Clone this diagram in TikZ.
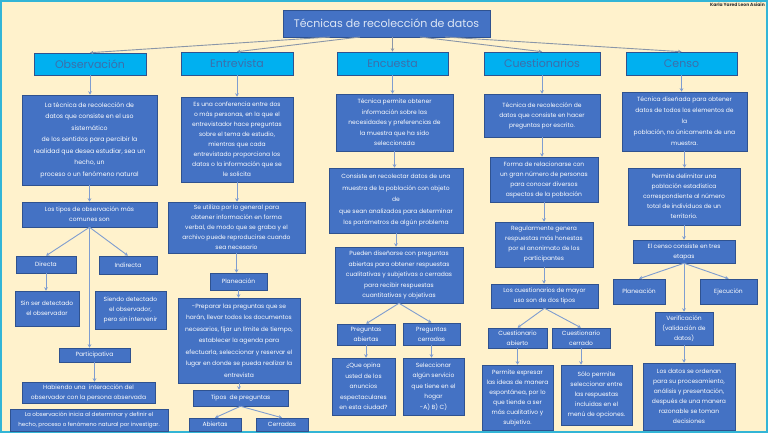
\documentclass[tikz,border=0pt]{standalone}
\usepackage{fontspec}
\setmainfont{Poppins}
\usetikzlibrary{arrows.meta}
\definecolor{bg}{HTML}{FFF2CC}
\definecolor{frm}{HTML}{33B5D6}
\definecolor{blu}{HTML}{4472C4}
\definecolor{bdr}{HTML}{2F528F}
\definecolor{cyn}{HTML}{00B0F0}
\definecolor{hdtext}{HTML}{3D6EAA}
\definecolor{ttltext}{HTML}{DCE6F5}
\definecolor{arc}{HTML}{7F9DD0}
\definecolor{tarc}{HTML}{8A96A8}
\newcommand\RB[7][bx]{\node[#1,minimum width={#5-#3},minimum height={#6-#4}] (#2) at ({(#3+#5)/2},{(#4+#6)/2}) {#7};}
\begin{document}
\begin{tikzpicture}[x=1pt,y=-1pt,
  bx/.style={draw=bdr,fill=blu,text=white,align=center,inner sep=0pt,line width=0.5pt,font=\fontsize{6}{10}\selectfont},
  hd/.style={draw=bdr,fill=cyn,text=hdtext,align=center,inner sep=0pt,line width=0.6pt,font=\fontsize{11}{12}\selectfont},
  ttl/.style={draw=bdr,fill=blu,text=ttltext,align=center,inner sep=0pt,line width=0.6pt,font=\fontsize{11}{12}\selectfont},
  arr/.style={draw=arc,line width=0.9pt,-{Stealth[length=3.5pt,width=3.5pt]}},
  tarr/.style={draw=tarc,line width=0.9pt,-{Stealth[length=3.5pt,width=3.5pt]}}]
\useasboundingbox (0,0) rectangle (768,433);
\fill[bg] (0,0) rectangle (768,433);
\draw[frm,line width=2pt] (1,1) rectangle (767,432);
\node[anchor=north east,inner sep=0pt,font=\fontsize{4.5}{5}\selectfont\bfseries,text=black!80] (auth) at (765,3) {Karla Yared Leon Asiain};
% title and headers
\RB[ttl]{title}{283}{10}{490}{37}{Técnicas de recolección de datos}
\RB[hd]{hObs}{34}{53}{146}{75}{Observación}
\RB[hd]{hEnt}{181}{52}{293}{75}{Entrevista}
\RB[hd]{hEnc}{337}{52}{448}{75}{Encuesta}
\RB[hd]{hCue}{484}{52}{600}{75}{Cuestionarios}
\RB[hd]{hCen}{626}{52}{737}{75}{Censo}
\coordinate (t1) at (330,37);
\coordinate (t2) at (360,37);
\coordinate (t4) at (420,37);
\coordinate (t5) at (445,37);
\draw[tarr] (t1) -- (hObs.north);
\draw[tarr] (t2) -- (hEnt.north);
\draw[tarr] (title.south -| hEnc.north) -- (hEnc.north);
\draw[tarr] (t4) -- (hCue.north);
\draw[tarr] (t5) -- (hCen.north);
% column 1
\RB[bx,font=\fontsize{6.2}{11.5}\selectfont]{o1}{22}{95}{157}{185}{La técnica de recolección de\\datos que consiste en el uso\\sistemático\\de los sentidos para percibir la\\realidad que desea estudiar, sea un\\hecho, un\\proceso o un fenómeno natural}
\RB{o2}{22}{202}{157}{227}{Los tipos de observación más\\comunes son}
\RB{oDir}{16}{256}{76}{273}{Directa}
\RB{oInd}{99}{256}{157}{274}{Indirecta}
\RB{oSin}{15}{291}{79}{326}{Sin ser detectado\\el observador}
\RB{oSie}{95}{291}{166}{329}{Siendo detectado\\el observador,\\pero sin intervenir}
\RB{oPar}{59}{348}{130}{362}{Participativa}
\RB{oHab}{22}{382}{155}{403}{Habiendo una \ interacción del\\observador con la persona observada}
\RB[bx,font=\fontsize{5.6}{9.5}\selectfont]{oLa}{10}{409}{168}{431}{La observación inicia al determinar y definir el\\hecho, proceso o fenómeno natural por investigar.}
\draw[arr] (hObs.south) -- (hObs.south |- o1.north);
\draw[arr] (o1.south) -- (o1.south |- o2.north);
\draw[arr] (o2.south) -- (oDir.north);
\draw[arr] (o2.south) -- (oInd.north);
\draw[arr] (o2.south) -- (o2.south |- oPar.north);
\draw[arr] (oDir.south) -- (oDir.south |- oSin.north);
\draw[arr] (oPar.south) -- (oPar.south |- oHab.north);
% column 2
\RB{e1}{181}{97}{293}{182}{Es una conferencia entre dos\\o más personas, en la que el\\entrevistador hace preguntas\\sobre el tema de estudio,\\mientras que cada\\entrevistado proporciona los\\datos o la información que se\\le solicita}
\RB{e2}{168}{202}{305}{253}{Se utiliza por lo general para\\obtener información en forma\\verbal, de modo que se graba y el\\archivo puede reproducirse cuando\\sea necesario}
\RB{ePlan}{210}{273}{267}{290}{Planeación}
\RB[bx,font=\fontsize{6}{11.5}\selectfont]{e3}{178}{298}{300}{383}{-Preparar las preguntas que se\\harán, llevar todos los documentos\\necesarios, fijar un límite de tiempo,\\establecer la agenda para\\efectuarla, seleccionar y reservar el\\lugar en donde se pueda realizar la\\entrevista}
\RB{eTip}{193}{390}{288}{406}{Tipos \ de preguntas}
\RB{eAb}{189}{418}{241}{431}{Abiertas}
\RB{eCe}{256}{418}{308}{431}{Cerradas}
\draw[arr] (hEnt.south) -- (hEnt.south |- e1.north);
\draw[arr] (e1.south) -- (e1.south |- e2.north);
\draw[arr] (e2.south) -- (e2.south |- ePlan.north);
\draw[arr] (ePlan.south) -- (ePlan.south |- e3.north);
\draw[arr] (e3.south) -- (e3.south |- eTip.north);
\draw[arr] (eTip.south) -- (eAb.north);
\draw[arr] (eTip.south) -- (eCe.north);
% column 3
\RB[bx,font=\fontsize{6}{10.5}\selectfont]{c1}{336}{94}{453}{151}{Técnica permite obtener\\información sobre las\\necesidades y preferencias de\\la muestra que ha sido\\seleccionada}
\RB[bx,font=\fontsize{6}{11.5}\selectfont]{c2}{329}{168}{463}{233}{Consiste en recolectar datos de una\\muestra de la población con objeto\\de\\que sean analizados para determinar\\los parámetros de algún problema}
\RB[bx,font=\fontsize{6}{10.5}\selectfont]{c3}{335}{247}{463}{303}{Pueden diseñarse con preguntas\\abiertas para obtener respuestas\\cualitativas y subjetivas o cerradas\\para recibir respuestas\\cuantitativas y objetivas}
\RB{cPa}{337}{324}{395}{345}{Preguntas\\abiertas}
\RB{cPc}{403}{323}{460}{345}{Preguntas\\cerradas}
\RB[bx,font=\fontsize{6}{10.5}\selectfont]{cQa}{332}{358}{395}{415}{¿Que opina\\usted de los\\anuncios\\espectaculares\\en esta ciudad?}
\RB[bx,font=\fontsize{6}{10.5}\selectfont]{cQc}{403}{358}{464}{415}{Seleccionar\\algún servicio\\que tiene en el\\hogar\\-A) B) C)}
\draw[arr] (hEnc.south) -- (hEnc.south |- c1.north);
\draw[arr] (c1.south) -- (c1.south |- c2.north);
\draw[arr] (c2.south) -- (c2.south |- c3.north);
\draw[arr] (c3.south) -- (cPa.north);
\draw[arr] (c3.south) -- (cPc.north);
\draw[arr] (cPa.south) -- (cPa.south |- cQa.north);
\draw[arr] (cPc.south) -- (cPc.south |- cQc.north);
% column 4
\RB{q1}{484}{94}{600}{137}{Técnica de recolección de\\datos que consiste en hacer\\preguntas por escrito.}
\RB{q2}{490}{157}{598}{202}{Forma de relacionarse con\\un gran número de personas\\para conocer diversos\\aspectos de la población}
\RB{q3}{495}{222}{593}{267}{Regularmente genera\\respuestas más honestas\\por el anonimato de los\\participantes}
\RB{q4}{491}{284}{598}{308}{Los cuestionarios de mayor\\uso son de dos tipos}
\RB{qA}{488}{328}{547}{348}{Cuestionario\\abierto}
\RB{qC}{552}{328}{610}{348}{Cuestionario\\cerrado}
\RB{qAa}{482}{365}{553}{430}{Permite expresar\\las ideas de manera\\espontánea, por lo\\que tiende a ser\\más cualitativo y\\subjetivo.}
\RB{qCc}{561}{365}{632}{425}{Sólo permite\\seleccionar entre\\las respuestas\\incluidas en el\\menú de opciones.}
\draw[arr] (hCue.south) -- (hCue.south |- q1.north);
\draw[arr] (q1.south) -- (q1.south |- q2.north);
\draw[arr] (q2.south) -- (q2.south |- q3.north);
\draw[arr] (q3.south) -- (q3.south |- q4.north);
\draw[arr] (q4.south) -- (qA.north);
\draw[arr] (q4.south) -- (qC.north);
\draw[arr] (qA.south) -- (qA.south |- qAa.north);
\draw[arr] (qC.south) -- (qC.south |- qCc.north);
% column 5
\RB[bx,font=\fontsize{6}{11}\selectfont]{s1}{622}{92}{747}{151}{Técnica diseñada para obtener\\datos de todos los elementos de\\la\\población, no únicamente de una\\muestra.}
\RB{s2}{628}{168}{740}{225}{Permite delimitar una\\población estadística\\correspondiente al número\\total de individuos de un\\territorio.}
\RB{s3}{633}{240}{735}{263}{El censo consiste en tres\\etapas}
\RB{sPl}{613}{279}{665}{304}{Planeación}
\RB{sEj}{700}{279}{757}{304}{Ejecución}
\RB{sVe}{655}{312}{713}{345}{Verificación\\(validación de\\datos)}
\RB{sLo}{643}{363}{735}{430}{Los datos se ordenan\\para su procesamiento,\\análisis y presentación,\\después de una manera\\razonable se toman\\decisiones}
\draw[arr] (hCen.south) -- (hCen.south |- s1.north);
\draw[arr] (s1.south) -- (s1.south |- s2.north);
\draw[arr] (s2.south) -- (s2.south |- s3.north);
\draw[arr] (s3.south) -- (sPl.north);
\draw[arr] (s3.south) -- (sEj.north);
\draw[arr] (s3.south) -- (s3.south |- sVe.north);
\draw[arr] (sVe.south) -- (sVe.south |- sLo.north);
\end{tikzpicture}
\end{document}
